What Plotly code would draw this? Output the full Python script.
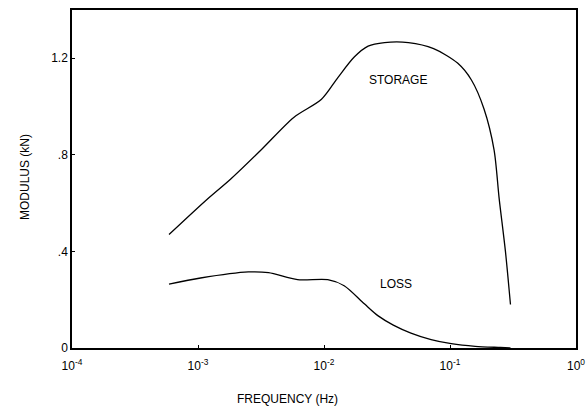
import plotly.graph_objects as go

storage_f = [10**v for v in [-3.23, -2.94, -2.74, -2.5, -2.24, -2.02, -1.89, -1.76, -1.65, -1.52, -1.33, -1.13, -0.94, -0.83, -0.73, -0.65, -0.61, -0.56, -0.52]]
storage_v = [0.47, 0.61, 0.70, 0.82, 0.955, 1.03, 1.12, 1.205, 1.25, 1.265, 1.265, 1.24, 1.18, 1.11, 0.99, 0.82, 0.62, 0.40, 0.18]

loss_f = [10**v for v in [-3.23, -2.98, -2.6, -2.44, -2.21, -1.97, -1.84, -1.68, -1.57, -1.45, -1.31, -1.15, -0.99, -0.8, -0.6, -0.52]]
loss_v = [0.265, 0.29, 0.315, 0.312, 0.283, 0.283, 0.258, 0.183, 0.133, 0.095, 0.062, 0.035, 0.018, 0.007, 0.002, 0.0]

x_tickvals = [1e-4, 1e-3, 1e-2, 1e-1, 1]
x_ticktext = ["10<sup>-4</sup>", "10<sup>-3</sup>", "10<sup>-2</sup>", "10<sup>-1</sup>", "10<sup>0</sup>"]
y_tickvals = [0, 0.4, 0.8, 1.2]
y_ticktext = ["0", ".4", ".8", "1.2"]

font = "Liberation Sans, Arial, sans-serif"

L, R, T, B = 72, 576, 10, 348
W, H = 586, 410

fig = go.Figure()
fig.add_trace(go.Scatter(x=storage_f, y=storage_v, mode="lines",
                         line=dict(color="black", width=1.3, shape="spline", smoothing=0.8),
                         name="STORAGE", showlegend=False))
fig.add_trace(go.Scatter(x=loss_f, y=loss_v, mode="lines",
                         line=dict(color="black", width=1.3, shape="spline", smoothing=0.8),
                         name="LOSS", showlegend=False))

fig.add_annotation(x=-1.413, y=1.11, xref="x", yref="y", text="STORAGE", showarrow=False,
                   xanchor="center", yanchor="middle",
                   font=dict(family=font, size=12, color="black"))
fig.add_annotation(x=-1.43, y=0.265, xref="x", yref="y", text="LOSS", showarrow=False,
                   xanchor="center", yanchor="middle",
                   font=dict(family=font, size=12, color="black"))
fig.add_annotation(x=(287 - L) / (R - L), y=-(399 - B) / (B - T), xref="paper", yref="paper",
                   text="FREQUENCY (Hz)", showarrow=False, xanchor="center", yanchor="middle",
                   font=dict(family=font, size=12, color="black"))
fig.add_annotation(x=-(L - 25) / (R - L), y=(B - 177) / (B - T), xref="paper", yref="paper",
                   text="MODULUS (kN)", showarrow=False, textangle=-90,
                   xanchor="center", yanchor="middle",
                   font=dict(family=font, size=12, color="black"))

fig.update_layout(
    width=W, height=H,
    margin=dict(l=L, r=W - R, t=T, b=H - B, autoexpand=False),
    paper_bgcolor="white", plot_bgcolor="white",
    font=dict(family=font, size=11, color="black"),
    showlegend=False,
)

fig.update_xaxes(type="log", range=[-4, 0], tickvals=x_tickvals, ticktext=x_ticktext,
                 showgrid=False, zeroline=False, showline=True, linecolor="black", linewidth=1.5,
                 mirror=True, ticks="inside", ticklen=3, tickcolor="black", automargin=False,
                 ticklabelstandoff=6,
                 tickfont=dict(family=font, size=12))
fig.update_yaxes(range=[0, 1.4], tickvals=y_tickvals, ticktext=y_ticktext,
                 showgrid=False, zeroline=False, showline=True, linecolor="black", linewidth=1.5,
                 mirror=True, ticks="inside", ticklen=3, tickcolor="black", automargin=False,
                 tickfont=dict(family=font, size=12))

fig.write_html("out.html", config={"displayModeBar": False},
               post_script="document.body.style.margin='0';document.body.style.overflow='hidden';")
